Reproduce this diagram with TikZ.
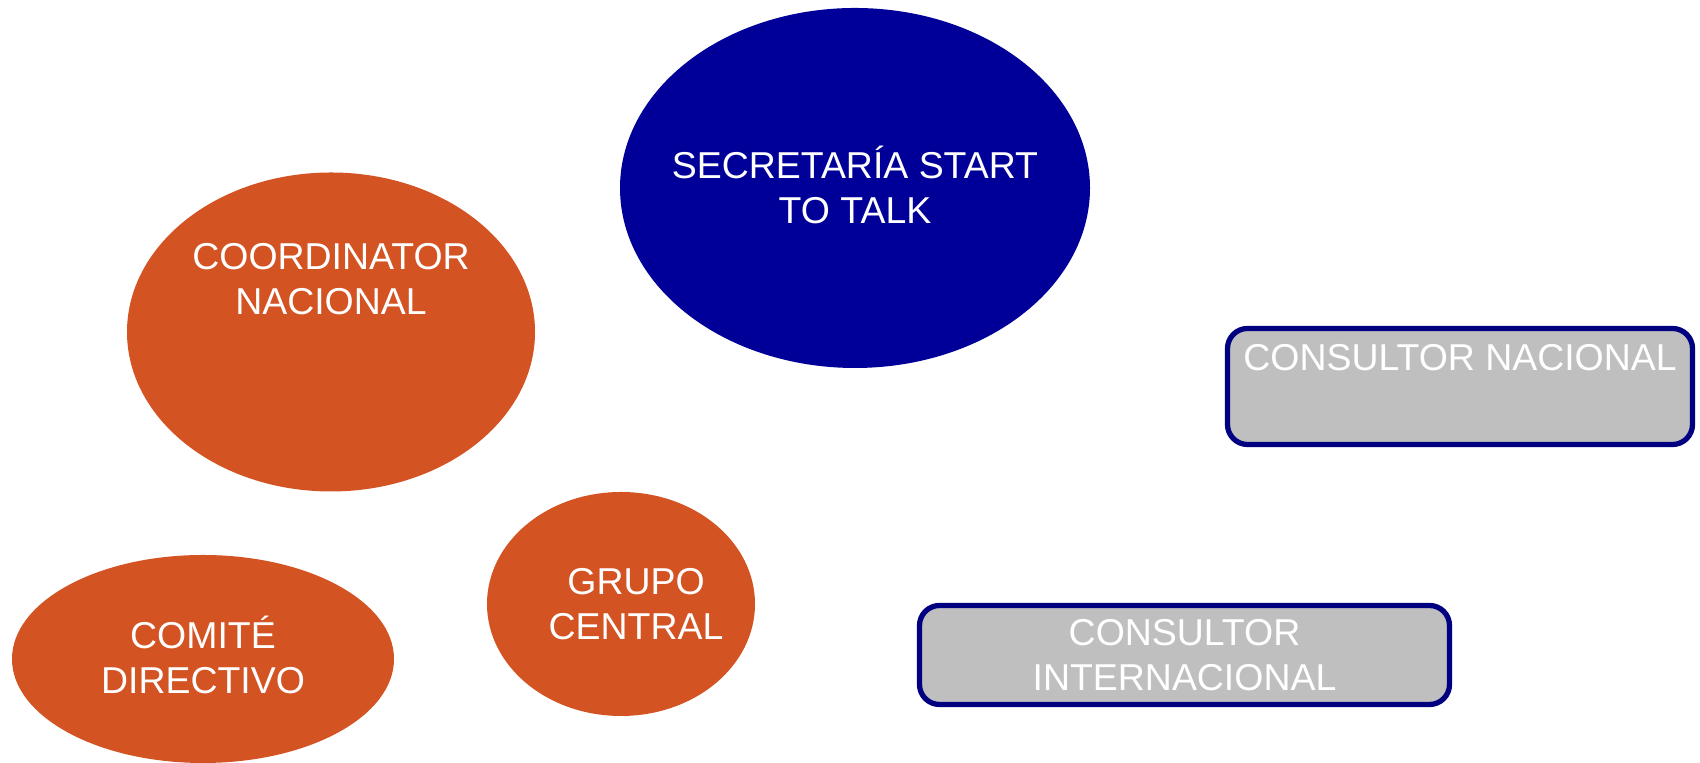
\documentclass[tikz,border=0pt]{standalone}
\usepackage{fontspec}
\setmainfont{Liberation Sans}
\usetikzlibrary{shapes.geometric,positioning}
\definecolor{naranja}{HTML}{D35322}
\definecolor{azul}{HTML}{000099}
\definecolor{marino}{HTML}{000080}
\definecolor{gris}{HTML}{BFBFBF}

\begin{document}
\begin{tikzpicture}[
    ovalo/.style={ellipse,fill=naranja,inner sep=0pt},
    caja/.style={rectangle,rounded corners=0.2cm,draw=marino,line width=1.5pt,fill=gris,inner sep=0pt},
    texto/.style={text=white,inner sep=0pt,align=center,font=\fontsize{10.65}{12.8}\selectfont}
  ]
            \useasboundingbox (0,0) rectangle (17,7.63);

            \node[ovalo,fill=azul,minimum width=4.70cm,minimum height=3.60cm] (secretaria) at (8.55,5.75) {};
            \node[texto] (secretariatxt) at ([yshift=0.03cm]secretaria.center) {SECRETARÍA START\\TO TALK};

            \node[ovalo,minimum width=4.08cm,minimum height=3.19cm] (coordinador) at (3.31,4.31) {};
            \node[texto] (coordtxt) at ([yshift=0.53cm]coordinador.center) {COORDINATOR\\NACIONAL};

            \node[ovalo,minimum width=3.82cm,minimum height=2.08cm] (comite) at (2.03,1.04) {};
            \node[texto] (comitetxt) at ([yshift=0.04cm]comite.center) {COMITÉ\\DIRECTIVO};

            \node[ovalo,minimum width=2.68cm,minimum height=2.24cm] (grupo) at (6.21,1.59) {};
            \node[texto] (grupotxt) at ([xshift=0.15cm]grupo.center) {GRUPO\\CENTRAL};

            \node[caja,minimum width=4.65cm,minimum height=1.16cm] (nacional) at (14.60,3.765) {};
            \node[texto] (nacionaltxt) at ([yshift=0.29cm]nacional.center) {CONSULTOR NACIONAL};

            \node[caja,minimum width=5.30cm,minimum height=0.99cm] (internacional) at (11.845,1.08) {};
            \node[texto] (internacionaltxt) at (internacional.center) {CONSULTOR\\INTERNACIONAL};
        \end{tikzpicture}
\end{document}
